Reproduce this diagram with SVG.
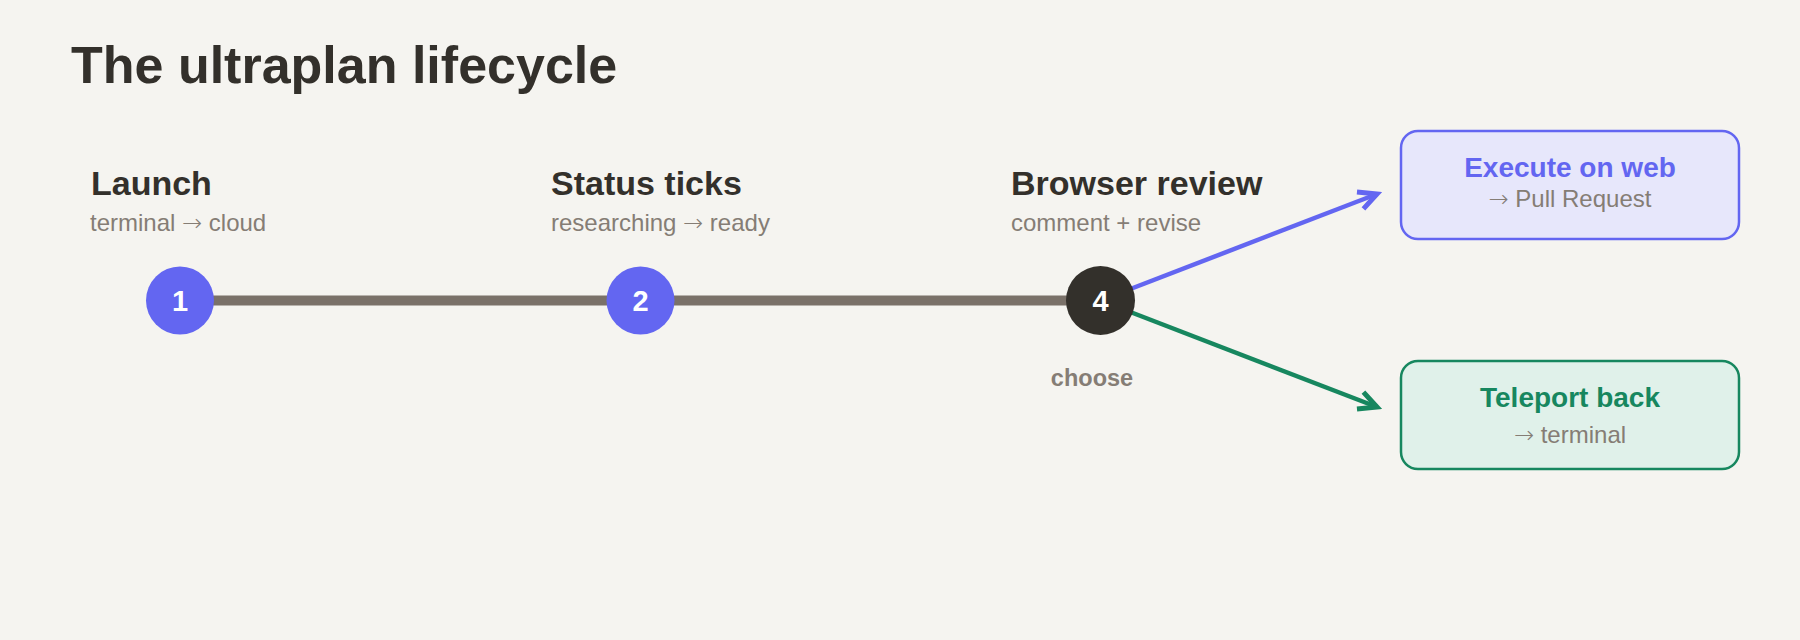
<svg xmlns="http://www.w3.org/2000/svg" width="1800" height="640" viewBox="0 0 1800 640">
  <style>
    text { font-family: "Liberation Sans", Arial, sans-serif; }
    .title { font-size: 52px; font-weight: bold; fill: #33302b; }
    .h { font-size: 34px; font-weight: bold; fill: #33302b; }
    .sub { font-size: 24px; fill: #857d75; }
    .ar { font-family: "DejaVu Sans", sans-serif; font-weight: 200; }
    .num { font-size: 29px; font-weight: bold; fill: #ffffff; text-anchor: middle; }
    .choose { font-size: 23.5px; font-weight: bold; fill: #857d75; text-anchor: middle; }
    .btitle { font-size: 28px; font-weight: bold; text-anchor: middle; }
    .bsub { font-size: 24px; fill: #857d75; text-anchor: middle; }
  </style>
  <defs>
    <marker id="arrBlue" viewBox="0 0 26 26" refX="21" refY="13" markerWidth="26" markerHeight="26" markerUnits="userSpaceOnUse" orient="auto">
      <path d="M3,4 L21,13 L3,22" fill="none" stroke="#6366f1" stroke-width="5"/>
    </marker>
    <marker id="arrGreen" viewBox="0 0 26 26" refX="21" refY="13" markerWidth="26" markerHeight="26" markerUnits="userSpaceOnUse" orient="auto">
      <path d="M3,4 L21,13 L3,22" fill="none" stroke="#17875f" stroke-width="5"/>
    </marker>
  </defs>
  <rect width="1800" height="640" fill="#f5f4f0"/>
  <text class="title" x="71" y="83">The ultraplan lifecycle</text>

  <g id="connectors">
    <line x1="180" y1="300.5" x2="1100.5" y2="300.5" stroke="#7a7169" stroke-width="10"/>
    <line x1="1100.5" y1="300.5" x2="1377" y2="194" stroke="#6366f1" stroke-width="4.5" marker-end="url(#arrBlue)"/>
    <line x1="1100.5" y1="300.5" x2="1377" y2="407" stroke="#17875f" stroke-width="4.5" marker-end="url(#arrGreen)"/>
  </g>

  <g id="step1">
    <text class="h" x="91" y="195">Launch</text>
    <text class="sub" x="90" y="231">terminal <tspan class="ar">→</tspan> cloud</text>
    <circle cx="180" cy="300.5" r="34" fill="#6366f1"/>
    <text class="num" x="180" y="311">1</text>
  </g>

  <g id="step2">
    <text class="h" x="551" y="195">Status ticks</text>
    <text class="sub" x="551" y="231">researching <tspan class="ar">→</tspan> ready</text>
    <circle cx="640.5" cy="300.5" r="34" fill="#6366f1"/>
    <text class="num" x="640.5" y="311">2</text>
  </g>

  <g id="step4">
    <text class="h" x="1011" y="195">Browser review</text>
    <text class="sub" x="1011" y="231">comment + revise</text>
    <circle cx="1100.5" cy="300.5" r="34.5" fill="#33302b"/>
    <text class="num" x="1100.5" y="311">4</text>
    <text class="choose" x="1092" y="386">choose</text>
  </g>

  <g id="execute">
    <rect x="1401" y="131" width="338" height="108" rx="17" fill="#e7e7fb" stroke="#6366f1" stroke-width="2.5"/>
    <text class="btitle" x="1570" y="177" fill="#6366f1">Execute on web</text>
    <text class="bsub" x="1570" y="207"><tspan class="ar">→</tspan> Pull Request</text>
  </g>

  <g id="teleport">
    <rect x="1401" y="361" width="338" height="108" rx="17" fill="#e0f1ea" stroke="#17875f" stroke-width="2.5"/>
    <text class="btitle" x="1570" y="407" fill="#17875f">Teleport back</text>
    <text class="bsub" x="1570" y="443"><tspan class="ar">→</tspan> terminal</text>
  </g>
</svg>
